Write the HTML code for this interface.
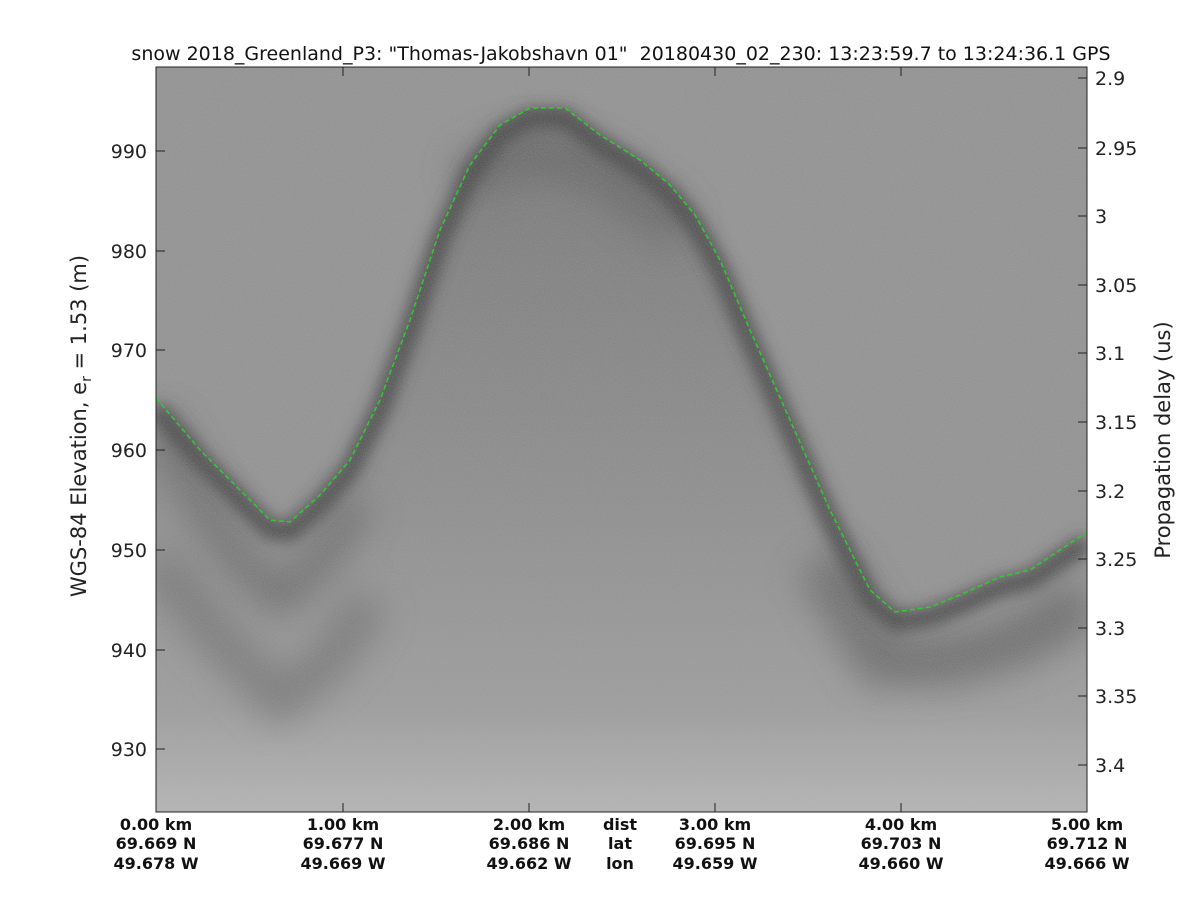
<!DOCTYPE html>
<html><head><meta charset="utf-8"><style>
body{margin:0;background:#fff;width:1200px;height:900px;overflow:hidden;font-family:"Liberation Sans","DejaVu Sans",sans-serif}
</style></head><body>
<svg width="1200" height="900" xmlns="http://www.w3.org/2000/svg" font-family="DejaVu Sans, Liberation Sans, sans-serif">
<defs>
<linearGradient id="below" x1="0" y1="0" x2="0" y2="1">
<stop offset="0" stop-color="#727272"/>
<stop offset="0.55" stop-color="#8a8a8a"/>
<stop offset="0.85" stop-color="#9a9a9a"/>
<stop offset="1" stop-color="#b4b4b4"/>
</linearGradient>
<filter id="blur"><feGaussianBlur stdDeviation="8"/></filter>
<filter id="blur2"><feGaussianBlur stdDeviation="18"/></filter>
<filter id="noise" x="0" y="0" width="100%" height="100%">
<feTurbulence type="fractalNoise" baseFrequency="0.9" numOctaves="1" seed="3"/>
<feColorMatrix type="matrix" values="0 0 0 0 0.5  0 0 0 0 0.5  0 0 0 0 0.5  0 0 0 0.35 0"/>
</filter>
<clipPath id="pc"><rect x="156" y="67" width="931" height="745"/></clipPath>
</defs>
<g clip-path="url(#pc)">
<rect x="156" y="67" width="931" height="745" fill="#8f8f8f"/>
<path d="M156,398 L200,450 L240,490 L270,520 L290,522 L320,495 L350,460 L380,400 L410,320 L440,230 L470,165 L500,125 L530,108 L565,108 L600,135 L640,160 L670,185 L695,215 L720,260 L750,330 L790,420 L830,510 L870,590 L895,612 L930,607 L960,595 L1000,577 L1030,570 L1060,550 L1087,532 L1087,812 L156,812 Z" fill="url(#below)"/>
<g filter="url(#blur2)" opacity="0.7">
<path d="M156,420 L200,500 L240,560 L280,600 L320,560 L360,500" stroke="#555" stroke-width="30" fill="none"/>
<path d="M156,560 L220,640 L280,700 L330,660 L370,600" stroke="#666" stroke-width="40" fill="none"/>
<path d="M820,560 L880,660 L950,660 L1020,640 L1087,600" stroke="#555" stroke-width="50" fill="none"/>
<path d="M460,180 L530,150 L600,170 L680,230" stroke="#5a5a5a" stroke-width="40" fill="none"/>
</g>
<path d="M156,408 L200,460 L240,500 L270,530 L290,532 L320,505 L350,470 L380,410 L410,330 L440,240 L470,175 L500,135 L530,118 L565,118 L600,145 L640,170 L670,195 L695,225 L720,270 L750,340 L790,430 L830,520 L870,600 L895,622 L930,617 L960,605 L1000,587 L1030,580 L1060,560 L1087,542" stroke="#3c3c3c" stroke-width="18" fill="none" filter="url(#blur)"/>
<rect x="156" y="67" width="931" height="745" filter="url(#noise)"/>
<path d="M156,398 L200,450 L240,490 L270,520 L290,522 L320,495 L350,460 L380,400 L410,320 L440,230 L470,165 L500,125 L530,108 L565,108 L600,135 L640,160 L670,185 L695,215 L720,260 L750,330 L790,420 L830,510 L870,590 L895,612 L930,607 L960,595 L1000,577 L1030,570 L1060,550 L1087,532" stroke="#2ecc2e" stroke-width="1.5" stroke-dasharray="5,3" fill="none"/>
</g>
<rect x="156" y="67" width="931" height="745" fill="none" stroke="#222" stroke-width="1"/>
<g stroke="#222" stroke-width="1">
<line x1="156" y1="151" x2="165" y2="151"/><line x1="156" y1="251" x2="165" y2="251"/><line x1="156" y1="350" x2="165" y2="350"/><line x1="156" y1="450" x2="165" y2="450"/><line x1="156" y1="550" x2="165" y2="550"/><line x1="156" y1="650" x2="165" y2="650"/><line x1="156" y1="749" x2="165" y2="749"/>
<line x1="1078" y1="78" x2="1087" y2="78"/><line x1="1078" y1="148" x2="1087" y2="148"/><line x1="1078" y1="216" x2="1087" y2="216"/><line x1="1078" y1="285" x2="1087" y2="285"/><line x1="1078" y1="353" x2="1087" y2="353"/><line x1="1078" y1="422" x2="1087" y2="422"/><line x1="1078" y1="491" x2="1087" y2="491"/><line x1="1078" y1="559" x2="1087" y2="559"/><line x1="1078" y1="628" x2="1087" y2="628"/><line x1="1078" y1="696" x2="1087" y2="696"/><line x1="1078" y1="765" x2="1087" y2="765"/>
<line x1="343" y1="812" x2="343" y2="803"/><line x1="529" y1="812" x2="529" y2="803"/><line x1="715" y1="812" x2="715" y2="803"/><line x1="901" y1="812" x2="901" y2="803"/>
<line x1="343" y1="67" x2="343" y2="76"/><line x1="529" y1="67" x2="529" y2="76"/><line x1="715" y1="67" x2="715" y2="76"/><line x1="901" y1="67" x2="901" y2="76"/>
</g>
<g font-size="19" fill="#222" text-anchor="end">
<text x="147" y="158">990</text><text x="147" y="258">980</text><text x="147" y="357">970</text><text x="147" y="457">960</text><text x="147" y="557">950</text><text x="147" y="657">940</text><text x="147" y="756">930</text>
</g>
<g font-size="19" fill="#222">
<text x="1095" y="85">2.9</text><text x="1095" y="155">2.95</text><text x="1095" y="223">3</text><text x="1095" y="292">3.05</text><text x="1095" y="360">3.1</text><text x="1095" y="429">3.15</text><text x="1095" y="498">3.2</text><text x="1095" y="566">3.25</text><text x="1095" y="635">3.3</text><text x="1095" y="703">3.35</text><text x="1095" y="772">3.4</text>
</g>
<text transform="translate(86,426) rotate(-90)" font-size="21" fill="#222" text-anchor="middle">WGS-84 Elevation, e<tspan font-size="14" dy="5">r</tspan><tspan dy="-5"> = 1.53 (m)</tspan></text>
<text transform="translate(1170,440) rotate(-90)" font-size="21" fill="#222" text-anchor="middle">Propagation delay (us)</text>
<text x="621" y="60" font-size="19" fill="#111" text-anchor="middle" xml:space="preserve">snow 2018_Greenland_P3: "Thomas-Jakobshavn 01"  20180430_02_230: 13:23:59.7 to 13:24:36.1 GPS</text>
<g font-size="16" font-weight="bold" fill="#111" text-anchor="middle">
<text x="156" y="830">0.00 km</text><text x="156" y="849">69.669 N</text><text x="156" y="869">49.678 W</text>
<text x="343" y="830">1.00 km</text><text x="343" y="849">69.677 N</text><text x="343" y="869">49.669 W</text>
<text x="529" y="830">2.00 km</text><text x="529" y="849">69.686 N</text><text x="529" y="869">49.662 W</text>
<text x="620" y="830">dist</text><text x="620" y="849">lat</text><text x="620" y="869">lon</text>
<text x="715" y="830">3.00 km</text><text x="715" y="849">69.695 N</text><text x="715" y="869">49.659 W</text>
<text x="901" y="830">4.00 km</text><text x="901" y="849">69.703 N</text><text x="901" y="869">49.660 W</text>
<text x="1087" y="830">5.00 km</text><text x="1087" y="849">69.712 N</text><text x="1087" y="869">49.666 W</text>
</g>
</svg>
</body></html>
